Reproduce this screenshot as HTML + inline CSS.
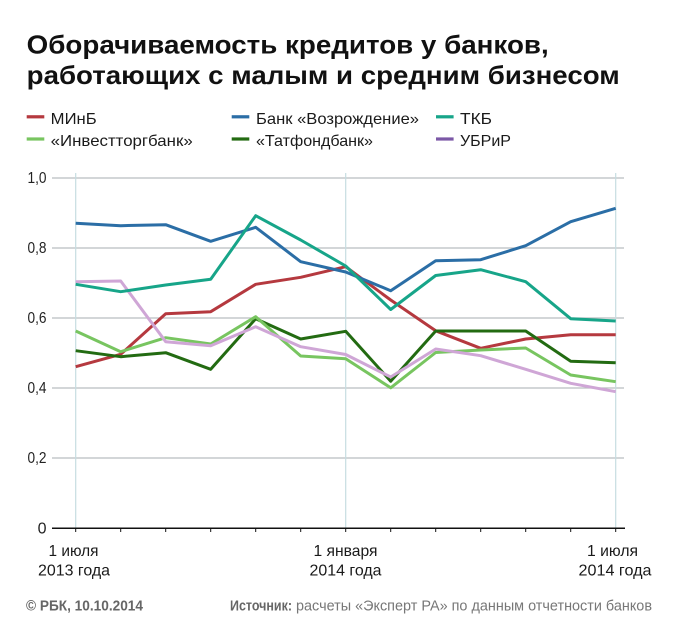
<!DOCTYPE html>
<html>
<head>
<meta charset="utf-8">
<style>
  html,body{margin:0;padding:0;background:#fff;}
  svg{display:block;}
  text{font-family:"Liberation Sans","DejaVu Sans",sans-serif;}
</style>
</head>
<body>
<svg width="673" height="638" viewBox="0 0 673 638" xmlns="http://www.w3.org/2000/svg">
  <rect x="0" y="0" width="673" height="638" fill="#ffffff"/>

  <!-- Title -->
  <text x="26.7" y="53.3" font-size="26" font-weight="bold" fill="#111" textLength="522" lengthAdjust="spacingAndGlyphs">Оборачиваемость кредитов у банков,</text>
  <text x="26.7" y="84" font-size="26" font-weight="bold" fill="#111" textLength="593" lengthAdjust="spacingAndGlyphs">работающих с малым и средним бизнесом</text>

  <!-- Legend -->
  <g font-size="16" fill="#1a1a1a">
    <rect x="26.7" y="115.2" width="17.6" height="3.2" fill="#b5393f"/>
    <text x="50.7" y="124" textLength="46" lengthAdjust="spacingAndGlyphs">МИнБ</text>
    <rect x="231.7" y="115.2" width="17.6" height="3.2" fill="#2b6ea6"/>
    <text x="256" y="124" textLength="163" lengthAdjust="spacingAndGlyphs">Банк «Возрождение»</text>
    <rect x="436" y="115.2" width="17.6" height="3.2" fill="#17a589"/>
    <text x="460" y="124" textLength="32" lengthAdjust="spacingAndGlyphs">ТКБ</text>

    <rect x="26.7" y="137.4" width="17.6" height="3.2" fill="#78c560"/>
    <text x="50.7" y="146" textLength="142" lengthAdjust="spacingAndGlyphs">«Инвестторгбанк»</text>
    <rect x="231.7" y="137.4" width="17.6" height="3.2" fill="#236b12"/>
    <text x="256" y="146" textLength="117" lengthAdjust="spacingAndGlyphs">«Татфондбанк»</text>
    <rect x="436" y="137.4" width="17.6" height="3.2" fill="#7b58a6"/>
    <text x="460" y="146" textLength="51" lengthAdjust="spacingAndGlyphs">УБРиР</text>
  </g>

  <!-- Horizontal gridlines -->
  <g stroke="#b9bdc0" stroke-width="1.2">
    <line x1="52" y1="178" x2="624" y2="178"/>
    <line x1="52" y1="248" x2="624" y2="248"/>
    <line x1="52" y1="318" x2="624" y2="318"/>
    <line x1="52" y1="388" x2="624" y2="388"/>
    <line x1="52" y1="458" x2="624" y2="458"/>
  </g>
  <!-- Vertical gridlines -->
  <g stroke="#c6dde1" stroke-width="1.2">
    <line x1="75.7" y1="173" x2="75.7" y2="528"/>
    <line x1="345.7" y1="173" x2="345.7" y2="528"/>
    <line x1="615.7" y1="173" x2="615.7" y2="528"/>
  </g>

  <!-- Y labels -->
  <g font-size="16" fill="#222" text-anchor="end">
    <text x="46.5" y="183" textLength="19" lengthAdjust="spacingAndGlyphs">1,0</text>
    <text x="46.5" y="253" textLength="19" lengthAdjust="spacingAndGlyphs">0,8</text>
    <text x="46.5" y="323" textLength="19" lengthAdjust="spacingAndGlyphs">0,6</text>
    <text x="46.5" y="393" textLength="19" lengthAdjust="spacingAndGlyphs">0,4</text>
    <text x="46.5" y="463" textLength="19" lengthAdjust="spacingAndGlyphs">0,2</text>
    <text x="46.5" y="533.5">0</text>
  </g>

  <!-- Series -->
  <g fill="none" stroke-width="3" stroke-linejoin="round" stroke-linecap="butt">
    <polyline stroke="#b5393f" points="75.7,366.7 120.7,354.3 165.7,313.7 210.7,311.7 255.7,284.3 300.7,277.3 345.7,266.7 390.7,300 435.7,330.8 480.7,348.3 525.7,339 570.7,334.7 615.7,334.7"/>
    <polyline stroke="#2b6ea6" points="75.7,223.3 120.7,225.7 165.7,224.7 210.7,241.3 255.7,227.3 300.7,261.7 345.7,272 390.7,290.7 435.7,260.7 480.7,259.7 525.7,245.7 570.7,221.7 615.7,208.3"/>
    <polyline stroke="#236b12" points="75.7,350.7 120.7,356.7 165.7,352.7 210.7,369.3 255.7,318.7 300.7,339 345.7,331.3 390.7,381.2 435.7,331 480.7,331 525.7,331 570.7,361.3 615.7,362.7"/>
    <polyline stroke="#78c560" points="75.7,331 120.7,351.7 165.7,337.7 210.7,344 255.7,316.7 300.7,356 345.7,358.7 390.7,387.8 435.7,352.5 480.7,350 525.7,348 570.7,375 615.7,381.7"/>
    <polyline stroke="#cfa6d6" points="75.7,281.7 120.7,281 165.7,341.7 210.7,345.7 255.7,326.7 300.7,346.7 345.7,354.5 390.7,377 435.7,349 480.7,355.7 525.7,369.3 570.7,383.3 615.7,391.7"/>
    <polyline stroke="#17a589" points="75.7,284.3 120.7,291.7 165.7,285 210.7,279.3 255.7,215.7 300.7,240 345.7,266 390.7,309.5 435.7,275.5 480.7,269.7 525.7,281.7 570.7,318.7 615.7,321"/>
  </g>

  <!-- X axis -->
  <line x1="52" y1="528.3" x2="625" y2="528.3" stroke="#111" stroke-width="1.5"/>
  <g stroke="#111" stroke-width="1">
    <line x1="75.7" y1="528" x2="75.7" y2="532"/>
    <line x1="120.7" y1="528" x2="120.7" y2="532"/>
    <line x1="165.7" y1="528" x2="165.7" y2="532"/>
    <line x1="210.7" y1="528" x2="210.7" y2="532"/>
    <line x1="255.7" y1="528" x2="255.7" y2="532"/>
    <line x1="300.7" y1="528" x2="300.7" y2="532"/>
    <line x1="345.7" y1="528" x2="345.7" y2="532"/>
    <line x1="390.7" y1="528" x2="390.7" y2="532"/>
    <line x1="435.7" y1="528" x2="435.7" y2="532"/>
    <line x1="480.7" y1="528" x2="480.7" y2="532"/>
    <line x1="525.7" y1="528" x2="525.7" y2="532"/>
    <line x1="570.7" y1="528" x2="570.7" y2="532"/>
    <line x1="615.7" y1="528" x2="615.7" y2="532"/>
  </g>

  <!-- X labels -->
  <g font-size="16" fill="#1a1a1a" text-anchor="middle">
    <text x="73.5" y="556" textLength="50" lengthAdjust="spacingAndGlyphs">1 июля</text>
    <text x="74" y="575.5" textLength="72" lengthAdjust="spacingAndGlyphs">2013 года</text>
    <text x="345.5" y="556" textLength="64" lengthAdjust="spacingAndGlyphs">1 января</text>
    <text x="345.5" y="575.5" textLength="72" lengthAdjust="spacingAndGlyphs">2014 года</text>
    <text x="612.5" y="556" textLength="51" lengthAdjust="spacingAndGlyphs">1 июля</text>
    <text x="615" y="575.5" textLength="73" lengthAdjust="spacingAndGlyphs">2014 года</text>
  </g>

  <!-- Footer -->
  <text x="26" y="610.7" font-size="15" font-weight="bold" fill="#666" textLength="117" lengthAdjust="spacingAndGlyphs">© РБК, 10.10.2014</text>
  <text x="230" y="610.7" font-size="15" font-weight="bold" fill="#666" textLength="62" lengthAdjust="spacingAndGlyphs">Источник:</text>
  <text x="296" y="610.7" font-size="15" fill="#777" textLength="356" lengthAdjust="spacingAndGlyphs">расчеты «Эксперт РА» по данным отчетности банков</text>
</svg>
</body>
</html>
